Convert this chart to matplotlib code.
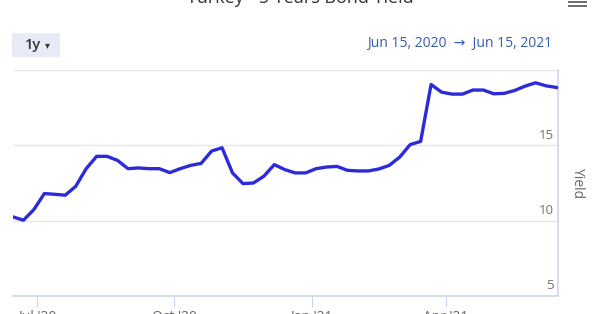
import numpy as np
import pandas as pd
import matplotlib
matplotlib.use('Agg')
import matplotlib.pyplot as plt
import matplotlib.dates as mdates
from matplotlib.patches import Rectangle, FancyBboxPatch

plt.rcParams['font.family'] = ['Open Sans', 'DejaVu Sans']

# weekly yields, Jun 15 2020 -> Jun 14 2021
dates = pd.date_range('2020-06-15', periods=53, freq='7D')
yields = [10.25, 10.03, 10.74, 11.80, 11.75, 11.69, 12.28, 13.45, 14.27, 14.27,
          14.00, 13.45, 13.50, 13.45, 13.45, 13.19, 13.45, 13.67, 13.80, 14.62,
          14.84, 13.17, 12.46, 12.50, 12.95, 13.72, 13.39, 13.17, 13.17, 13.45,
          13.56, 13.60, 13.34, 13.30, 13.30, 13.43, 13.67, 14.22, 15.05, 15.26,
          19.04, 18.53, 18.40, 18.40, 18.67, 18.67, 18.42, 18.45, 18.64, 18.93,
          19.15, 18.95, 18.84]
y_ticks = [5, 10, 15, 20]
x_ticks = ['2020-07-01', '2020-10-01', '2021-01-01', '2021-04-01']
x_tick_labels = ["Jul '20", "Oct '20", "Jan '21", "Apr '21"]

W, H = 600, 314
fig = plt.figure(figsize=(W / 100, H / 100), dpi=100)
ax = fig.add_axes([13 / W, (H - 296) / H, (558 - 13) / W, (296 - 70) / H])

grid_c = '#e6e6e6'
axis_c = '#ccd6eb'
for v in y_ticks:
    ax.axhline(v, color=grid_c, lw=1, zorder=1)

ax.plot(dates, yields, color='#2b2bd9', lw=2.4, zorder=3, solid_joinstyle='round')

ax.set_xlim(pd.Timestamp('2020-06-15'), pd.Timestamp('2021-06-15'))
ax.set_ylim(5, 20)

for s in ['top', 'left']:
    ax.spines[s].set_visible(False)
ax.spines['bottom'].set_color(axis_c)
ax.spines['right'].set_color(axis_c)
ax.spines['bottom'].set_linewidth(1.2)
ax.spines['right'].set_linewidth(1.2)

ax.set_xticks([pd.Timestamp(d) for d in x_ticks])
ax.set_xticklabels(x_tick_labels)
ax.tick_params(axis='x', length=8, color=axis_c, labelcolor='#666666', labelsize=10, pad=2)
ax.set_yticks([])

# y labels inside plot, above grid lines
for v in y_ticks[:-1]:
    ax.text(0.993, v + 0.25, str(v), transform=ax.get_yaxis_transform(),
            ha='right', va='bottom', fontsize=9.5, color='#707070')

fig.text(578 / W, 1 - 183 / H, 'Yield', rotation=270, ha='center', va='center',
         fontsize=10, color='#666666')

# title (cut at top)
fig.text(0.5, 1 - 3 / H, 'Turkey - 5 Years Bond Yield', ha='center', va='baseline',
         fontsize=13, color='#333333')

# hamburger icon
for yy in [1.5, 5.5]:
    fig.patches.append(Rectangle((568 / W, 1 - (yy + 1.0) / H), 19 / W, 1.8 / H,
                                 transform=fig.transFigure, facecolor='#707070',
                                 edgecolor='none', lw=0))

# range selector button
fig.patches.append(FancyBboxPatch((12 / W, 1 - 57 / H), 48 / W, 24 / H,
                                  boxstyle='round,pad=0,rounding_size=0.005',
                                  transform=fig.transFigure, color='#e6ebf5', lw=0))
fig.text(25 / W, 1 - 45 / H, '1y', ha='left', va='center', fontsize=10.5,
         color='#333333', fontweight='semibold')
fig.text(45 / W, 1 - 45 / H, '\u25be', ha='left', va='center', fontsize=7, color='#333333',
         family=['DejaVu Sans'])

fig.text(552 / W, 1 - 44 / H, 'Jun 15, 2020  \u2192  Jun 15, 2021', ha='right', va='center',
         fontsize=10, color='#335cad')

fig.savefig('out.png', dpi=100)
